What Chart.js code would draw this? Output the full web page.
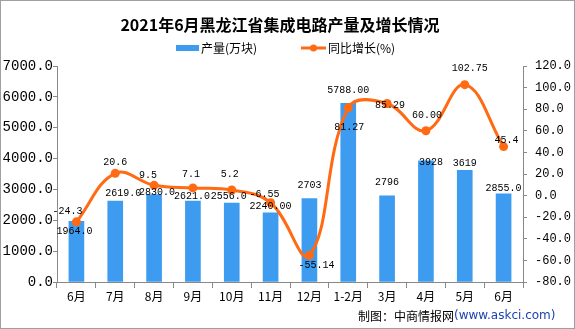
<!DOCTYPE html>
<html>
<head>
<meta charset="utf-8">
<script src="https://cdn.jsdelivr.net/npm/chart.js@4/dist/chart.umd.min.js"></script>
<style>
  html, body { margin: 0; padding: 0; background: #fff; }
  #wrap { position: relative; width: 575px; height: 329px; }
</style>
</head>
<body>
<div id="wrap"><canvas id="chart" width="575" height="329"></canvas></div>
<script>
  // data
  const months = ["6月", "7月", "8月", "9月", "10月", "11月", "12月", "1-2月", "3月", "4月", "5月", "6月"];
  const output = [1964.0, 2619.0, 2830.0, 2621.0, 2556.0, 2240.00, 2703, 5788.00, 2796, 3928, 3619, 2855.0];
  const outputText = ["1964.0", "2619.0", "2830.0", "2621.0", "2556.0", "2240.00", "2703", "5788.00", "2796", "3928", "3619", "2855.0"];
  const growth = [-24.3, 20.6, 9.5, 7.1, 5.2, -6.55, -55.14, 81.27, 85.29, 60.00, 102.75, 45.4];
  const growthText = ["-24.3", "20.6", "9.5", "7.1", "5.2", "-6.55", "-55.14", "81.27", "85.29", "60.00", "102.75", "45.4"];

  // label nudges [dx, dy] from the mark
  const barNudge = [[-2, 10], [8, -8], [3, -2], [-1, -5], [-3, -7], [0, -7], [0, -13], [0, -13], [0, -13], [5, 2], [0, -7], [0, -6]];
  const lineNudge = [[-9, -10], [0, -11], [-6, -10], [-2, -14], [-2, -16], [-6, -8], [7, 10], [1, 20], [3, 2], [1, -15], [5, -16], [3, -6]];

  const BLUE = "#3d9cf0";
  const ORANGE = "#ff6a13";
  const MONO = "'Liberation Mono', 'DejaVu Sans Mono', monospace";
  const CJK = "'Noto Sans CJK SC', 'Noto Sans', sans-serif";

  const decor = {
    id: "decor",
    afterDatasetsDraw(chart) {
      const ctx = chart.ctx;
      ctx.save();
      ctx.font = "10px " + MONO;
      ctx.fillStyle = "#000";
      ctx.textAlign = "center";
      ctx.textBaseline = "middle";
      chart.getDatasetMeta(1).data.forEach((el, i) => {
        ctx.fillText(outputText[i], el.x + barNudge[i][0], el.y + barNudge[i][1]);
      });
      chart.getDatasetMeta(0).data.forEach((el, i) => {
        ctx.fillText(growthText[i], el.x + lineNudge[i][0], el.y + lineNudge[i][1]);
      });
      ctx.restore();
    },
    afterDraw(chart) {
      const ctx = chart.ctx;
      ctx.save();
      // title
      ctx.fillStyle = "#000";
      ctx.textAlign = "center";
      ctx.textBaseline = "middle";
      ctx.font = "bold 16px " + CJK;
      ctx.fillText("2021年6月黑龙江省集成电路产量及增长情况", 280, 25);
      // legend
      ctx.fillStyle = BLUE;
      ctx.fillRect(176, 45, 23, 6);
      ctx.fillStyle = "#000";
      ctx.textAlign = "left";
      ctx.font = "12px " + CJK;
      ctx.fillText("产量(万块)", 201, 48);
      ctx.strokeStyle = ORANGE;
      ctx.lineWidth = 3;
      ctx.beginPath();
      ctx.moveTo(301, 48);
      ctx.lineTo(326, 48);
      ctx.stroke();
      ctx.fillStyle = ORANGE;
      ctx.beginPath();
      ctx.arc(313.5, 48, 3.5, 0, Math.PI * 2);
      ctx.fill();
      ctx.fillStyle = "#000";
      ctx.fillText("同比增长(%)", 328, 48);
      // source
      ctx.font = "12px " + CJK;
      ctx.fillText("制图：中商情报网", 358, 316);
      const w = ctx.measureText("制图：中商情报网").width;
      ctx.fillStyle = "#1b44b0";
      ctx.font = "12px 'DejaVu Sans', sans-serif";
      ctx.fillText("(www.askci.com)", 358 + w, 316);
      // frame
      ctx.strokeStyle = "#a0a0a0";
      ctx.lineWidth = 1;
      ctx.strokeRect(0.5, 0.5, 574, 328);
      ctx.restore();
    }
  };

  new Chart(document.getElementById("chart"), {
    type: "bar",
    data: {
      labels: months,
      datasets: [
        {
          type: "line",
          label: "同比增长(%)",
          data: growth,
          yAxisID: "y1",
          borderColor: ORANGE,
          backgroundColor: ORANGE,
          borderWidth: 3,
          pointRadius: 4.5,
          pointBackgroundColor: ORANGE,
          pointBorderWidth: 0,
          tension: 0.4,
          order: 0,
        },
        {
          label: "产量(万块)",
          data: output,
          yAxisID: "y",
          backgroundColor: BLUE,
          barThickness: 15,
          order: 1,
        },
      ],
    },
    options: {
      responsive: false,
      animation: false,
      layout: { padding: { top: 66, left: 0, right: 0, bottom: 0 } },
      plugins: { legend: { display: false }, tooltip: { enabled: false } },
      scales: {
        x: {
          grid: { display: true, drawOnChartArea: false, drawTicks: true, tickLength: 6, color: "#888" },
          border: { color: "#888" },
          ticks: { color: "#000", font: { size: 12, family: CJK }, padding: 1, maxRotation: 0, autoSkip: false },
          afterFit(s) { s.height = 47; },
        },
        y: {
          position: "left",
          min: 0, max: 7000,
          grid: { drawOnChartArea: false, tickLength: 4, color: "#888" },
          border: { color: "#888" },
          ticks: { stepSize: 1000, color: "#000", padding: 0, font: { size: 14, family: MONO },
            callback: v => v.toFixed(1) },
          afterFit(s) { s.width = 57; },
        },
        y1: {
          position: "right",
          min: -80, max: 120,
          grid: { drawOnChartArea: false, tickLength: 4, color: "#888" },
          border: { color: "#888" },
          ticks: { stepSize: 20, color: "#000", padding: 8, font: { size: 12, family: MONO },
            callback: v => v.toFixed(1) },
          afterFit(s) { s.width = 52; },
        },
      },
    },
    plugins: [decor],
  });
</script>
</body>
</html>
